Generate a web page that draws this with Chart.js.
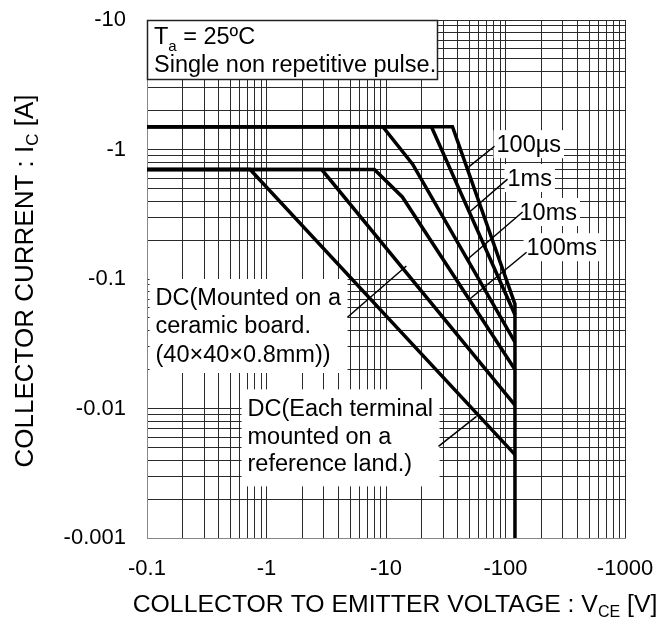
<!DOCTYPE html>
<html><head><meta charset="utf-8">
<script src="https://cdn.jsdelivr.net/npm/chart.js@4/dist/chart.umd.min.js"></script>
<style>html,body{margin:0;padding:0;background:#fff}canvas{display:block}</style>
</head><body>
<canvas id="c" width="664" height="619" style="width:664px;height:619px"></canvas>
<script>
// ---- axis ticks ----
const xTickValues = [0.1, 1, 10, 100, 1000];
const xTickLabels = ['-0.1', '-1', '-10', '-100', '-1000'];
const yTickValues = [0.001, 0.01, 0.1, 1, 10];
const yTickLabels = ['-0.001', '-0.01', '-0.1', '-1', '-10'];
const gridMultipliers = [1, 2, 3, 4, 5, 6, 7, 8, 9];

// ---- series (magnitudes: VCE [V], IC [A]) ----
const vce100us = [0.1, 36, 120, 120];
const ic100us  = [1.5, 1.5, 0.064, 0.001];
const vce1ms   = [0.1, 24, 120];
const ic1ms    = [1.5, 1.5, 0.053];
const vce10ms  = [0.1, 9.4, 16.7, 120];
const ic10ms   = [1.5, 1.5, 0.77, 0.0325];
const vce100ms = [0.1, 8.0, 13.7, 120];
const ic100ms  = [0.7, 0.7, 0.43, 0.020];
const vceDcCeramic = [0.1, 2.9, 120];
const icDcCeramic  = [0.7, 0.7, 0.0106];
const vceDcLand    = [0.1, 0.73, 120];
const icDcLand     = [0.7, 0.7, 0.0044];

const FONT = "'Liberation Sans', Arial, sans-serif";

function gridFrom(majors) {
  const out = [];
  for (let i = 0; i < majors.length - 1; i++) {
    gridMultipliers.forEach(m => out.push(parseFloat((majors[i] * m).toPrecision(6))));
  }
  out.push(majors[majors.length - 1]);
  return out;
}
function labelFor(values, labels, v) {
  const i = values.findIndex(t => Math.abs(Math.log10(t) - Math.log10(v)) < 1e-6);
  return i >= 0 ? labels[i] : '';
}
const pts = (xs, ys) => xs.map((x, i) => ({x, y: ys[i]}));

function ds(label, xs, ys) {
  return {label, data: pts(xs, ys), showLine: true, borderColor: '#000', borderWidth: 3.5,
          pointRadius: 0, tension: 0, fill: false, borderJoinStyle: 'miter', clip: 4};
}

// ---- annotations (anchored in data coordinates) ----
const leaders = [
  [80.9, 1.06, 49.0, 0.73],
  [104, 0.591, 50.0, 0.329],
  [139, 0.329, 48.1, 0.142],
  [150, 0.161, 50.0, 0.0698],
  [4.76, 0.0507, 14.8, 0.126],
  [27.5, 0.0051, 57.2, 0.0087]
];
const tagLabels = [
  {text: '100µs', x: 84.1, y: 1.10},
  {text: '1ms', x: 104, y: 0.602},
  {text: '10ms', x: 131, y: 0.329},
  {text: '100ms', x: 150, y: 0.176}
];
const noteBoxes = [
  {x: 0.105, y: 0.1, w: 198, h: 94, lines: ['DC(Mounted on a', 'ceramic board.', '(40×40×0.8mm))'], base: [26, 54, 83]},
  {x: 0.618, y: 0.01405, w: 198, h: 97, lines: ['DC(Each terminal', 'mounted on a', 'reference land.)'], base: [27, 55, 82]}
];

function richWidth(ctx, parts) {
  let w = 0;
  parts.forEach(p => { ctx.font = p.size + 'px ' + FONT; w += ctx.measureText(p.t).width; });
  return w;
}
function drawRich(ctx, parts, x, y) {
  let cx = x;
  ctx.textAlign = 'left';
  ctx.textBaseline = 'alphabetic';
  parts.forEach(p => {
    ctx.font = p.size + 'px ' + FONT;
    ctx.fillText(p.t, cx, y + (p.dy || 0));
    cx += ctx.measureText(p.t).width;
  });
}

const annotPlugin = {
  id: 'annot',
  afterDatasetsDraw(chart) {
    const {ctx, scales: {x, y}} = chart;
    const P = (v, i) => [x.getPixelForValue(v), y.getPixelForValue(i)];
    ctx.save();
    ctx.fillStyle = '#000';
    // note boxes
    noteBoxes.forEach(b => {
      const [bx, by] = P(b.x, b.y);
      ctx.fillStyle = '#fff';
      ctx.fillRect(bx, by, b.w, b.h);
      ctx.fillStyle = '#000';
      ctx.font = '23.5px ' + FONT;
      ctx.textAlign = 'left';
      ctx.textBaseline = 'alphabetic';
      b.lines.forEach((t, k) => ctx.fillText(t, bx + 6, by + b.base[k]));
    });
    // tag labels
    tagLabels.forEach(l => {
      const [lx, ly] = P(l.x, l.y);
      ctx.font = '23.5px ' + FONT;
      const w = ctx.measureText(l.text).width;
      ctx.fillStyle = '#fff';
      ctx.fillRect(lx - 3, ly - 14, w + 6, 28);
      ctx.fillStyle = '#000';
      ctx.textAlign = 'left';
      ctx.textBaseline = 'alphabetic';
      ctx.fillText(l.text, lx, ly + 8);
    });
    // leader lines
    ctx.strokeStyle = '#000';
    ctx.lineWidth = 1.5;
    leaders.forEach(l => {
      const a = P(l[0], l[1]), b = P(l[2], l[3]);
      ctx.beginPath(); ctx.moveTo(a[0], a[1]); ctx.lineTo(b[0], b[1]); ctx.stroke();
    });
    // condition box (top-left)
    const [tx, ty] = P(0.1, 10);
    ctx.fillStyle = '#fff';
    ctx.fillRect(tx, ty, 291, 60);
    ctx.strokeStyle = '#222';
    ctx.lineWidth = 1.5;
    ctx.strokeRect(tx + 0.5, ty + 0.5, 290, 59);
    ctx.fillStyle = '#000';
    drawRich(ctx, [{t: 'T', size: 23.5}, {t: 'a', size: 15, dy: 7}, {t: ' = 25ºC', size: 23.5}], tx + 7, ty + 24);
    drawRich(ctx, [{t: 'Single non repetitive pulse.', size: 23.5}], tx + 7, ty + 52);
    ctx.restore();
  },
  afterDraw(chart) {
    const {ctx, chartArea} = chart;
    ctx.save();
    ctx.fillStyle = '#000';
    // x title
    const xp = [{t: 'COLLECTOR TO EMITTER VOLTAGE : V', size: 24.8}, {t: 'CE', size: 16, dy: 5}, {t: ' [V]', size: 24.8}];
    const xw = richWidth(ctx, xp);
    drawRich(ctx, xp, 395 - xw / 2, 612);
    // y title
    const yp = [{t: 'COLLECTOR CURRENT : I', size: 26}, {t: 'C', size: 17, dy: 5}, {t: ' [A]', size: 26}];
    const yw = richWidth(ctx, yp);
    ctx.translate(33, (chartArea.top + chartArea.bottom) / 2 + 2);
    ctx.rotate(-Math.PI / 2);
    drawRich(ctx, yp, -yw / 2, 0);
    ctx.restore();
  }
};

const xGrid = gridFrom(xTickValues);
const yGrid = gridFrom(yTickValues);

new Chart(document.getElementById('c'), {
  type: 'scatter',
  data: {
    datasets: [
      ds('100µs', vce100us, ic100us),
      ds('1ms', vce1ms, ic1ms),
      ds('10ms', vce10ms, ic10ms),
      ds('100ms', vce100ms, ic100ms),
      ds('DC (ceramic board)', vceDcCeramic, icDcCeramic),
      ds('DC (reference land)', vceDcLand, icDcLand)
    ]
  },
  options: {
    responsive: false,
    animation: false,
    devicePixelRatio: 1,
    layout: {padding: {left: 0, top: 20, right: 39, bottom: 0}},
    plugins: {legend: {display: false}, tooltip: {enabled: false}},
    scales: {
      x: {
        type: 'logarithmic', min: 0.1, max: 1000,
        afterBuildTicks: s => { s.ticks = xGrid.map(v => ({value: v})); },
        afterFit: s => { s.height = 81; s.paddingLeft = 0; s.paddingRight = 0; },
        grid: {color: '#2a2a2a', lineWidth: 1, drawTicks: false},
        border: {display: true, color: '#888', width: 1},
        ticks: {autoSkip: false, maxRotation: 0, padding: 18, color: '#000',
                font: {family: FONT, size: 22},
                callback: v => labelFor(xTickValues, xTickLabels, v)},
        title: {display: false}
      },
      y: {
        type: 'logarithmic', min: 0.001, max: 10,
        afterBuildTicks: s => { s.ticks = yGrid.map(v => ({value: v})); },
        afterFit: s => { s.width = 147; s.paddingTop = 0; s.paddingBottom = 0; },
        grid: {color: '#2a2a2a', lineWidth: 1, drawTicks: false},
        border: {display: true, color: '#888', width: 1},
        ticks: {autoSkip: false, padding: 21, color: '#000',
                font: {family: FONT, size: 22},
                callback: v => labelFor(yTickValues, yTickLabels, v)},
        title: {display: false}
      }
    }
  },
  plugins: [annotPlugin]
});
</script>
</body></html>
